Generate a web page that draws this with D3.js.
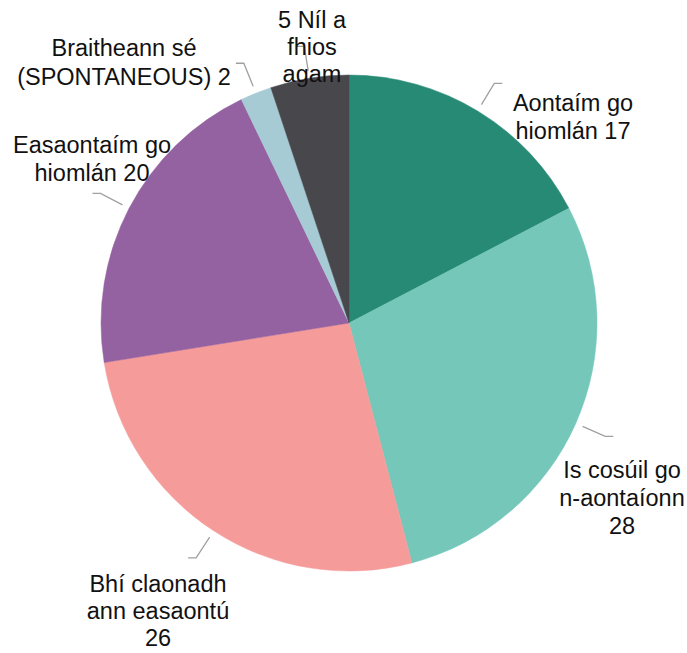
<!DOCTYPE html>
<html>
<head>
<meta charset="utf-8">
<script src="https://cdn.jsdelivr.net/npm/d3@7"></script>
<style>
  html, body { margin: 0; padding: 0; background: #ffffff; }
  svg { display: block; }
  text { font-family: "Liberation Sans", Arial, sans-serif; fill: #111; }
</style>
</head>
<body>
<div id="chart"></div>
<script>
// ---- Data ----
const categories = [
  "Aontaím go hiomlán",
  "Is cosúil go n-aontaíonn",
  "Bhí claonadh ann easaontú",
  "Easaontaím go hiomlán",
  "Braitheann sé (SPONTANEOUS)",
  "Níl a fhios agam"
];
const values = [17, 28, 26, 20, 2, 5];
const colors = ["#278a74", "#74c7b9", "#f59c9b", "#9461a1", "#a7cbd4", "#48474c"];
// label text, as wrapped in the reference
const labelLines = [
  ["Aontaím go", "hiomlán 17"],
  ["Is cosúil go", "n-aontaíonn", "28"],
  ["Bhí claonadh", "ann easaontú", "26"],
  ["Easaontaím go", "hiomlán 20"],
  ["Braitheann sé", "(SPONTANEOUS) 2"],
  ["5 Níl a", "fhios", "agam"]
];

// ---- Layout ----
const W = 687, H = 653;
const cx = 349, cy = 323, R = 248;
const labelAnchors = [[573, 111], [622, 478], [158, 592], [92, 153], [124, 56], [312, 28]];
const lineHeights = [28, 28, 27, 28, 29, 27];

const svg = d3.select("#chart").append("svg")
  .attr("width", W).attr("height", H);

const g = svg.append("g").attr("transform", `translate(${cx},${cy})`);

const pie = d3.pie().sort(null).value(d => d.value).startAngle(0).endAngle(2 * Math.PI);
const data = categories.map((c, i) => ({ name: c, value: values[i], color: colors[i], lines: labelLines[i], anchor: labelAnchors[i], lh: lineHeights[i] }));
const arcs = pie(data);

const arc = d3.arc().innerRadius(0).outerRadius(R);

g.selectAll("path.slice").data(arcs).join("path")
  .attr("class", "slice")
  .attr("d", arc)
  .attr("fill", d => d.data.color)
  .attr("stroke", d => d.data.color)
  .attr("stroke-width", 0.5);

// leader lines
const pt = (a, r) => [Math.sin(a) * r, -Math.cos(a) * r];
g.selectAll("polyline.leader").data(arcs).join("polyline")
  .attr("class", "leader")
  .attr("fill", "none")
  .attr("stroke", "#a0a0a0")
  .attr("stroke-width", 1.3)
  .attr("points", d => {
    const m = (d.startAngle + d.endAngle) / 2;
    const p0 = pt(m, R * 1.03);
    const p1 = pt(m, R * 1.13);
    const dir = Math.sin(m) >= 0 ? 1 : -1;
    const p2 = [p1[0] + dir * 8, p1[1]];
    return [p0, p1, p2].map(p => p.join(",")).join(" ");
  });

// labels
const labels = svg.selectAll("text.label").data(arcs).join("text")
  .attr("class", "label")
  .attr("text-anchor", "middle")
  .attr("font-size", "23.5px");
labels.each(function(d) {
  const t = d3.select(this);
  d.data.lines.forEach((ln, i) => {
    t.append("tspan")
      .attr("x", d.data.anchor[0])
      .attr("y", d.data.anchor[1] + i * d.data.lh)
      .text(ln);
  });
});
</script>
</body>
</html>
